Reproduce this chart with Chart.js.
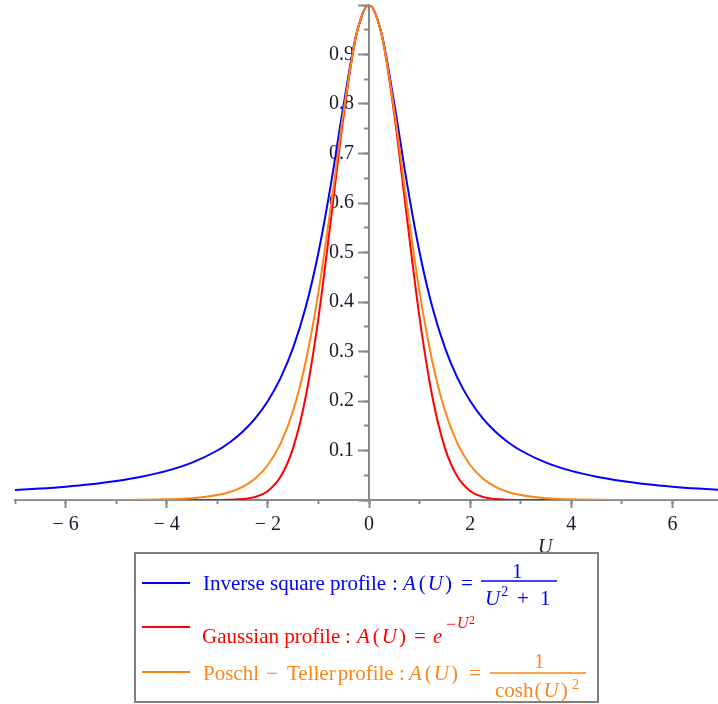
<!DOCTYPE html>
<html>
<head>
<meta charset="utf-8">
<script src="https://cdn.jsdelivr.net/npm/chart.js@4/dist/chart.umd.min.js"></script>
<style>
  html, body { margin: 0; padding: 0; background: #ffffff; }
  #wrap { width: 718px; height: 704px; position: relative; }
</style>
</head>
<body>
<div id="wrap"><canvas id="profiles-chart"></canvas></div>
<script>
const uValues = [-7, -6.5, -6, -5.5, -5, -4.5, -4, -3.5, -3, -2.75, -2.5, -2.25, -2, -1.75, -1.5, -1.25, -1, -0.75, -0.5, -0.25,
    0, 0.25, 0.5, 0.75, 1, 1.25, 1.5, 1.75, 2, 2.25, 2.5, 2.75, 3, 3.5, 4, 4.5, 5, 5.5, 6, 6.5, 7];

const inverseSquare = [0.0200, 0.0231, 0.0270, 0.0320, 0.0385, 0.0471, 0.0588, 0.0755, 0.1000, 0.1168, 0.1379, 0.1649, 0.2000, 0.2462, 0.3077, 0.3902, 0.5000, 0.6400, 0.8000, 0.9412,
    1.0000, 0.9412, 0.8000, 0.6400, 0.5000, 0.3902, 0.3077, 0.2462, 0.2000, 0.1649, 0.1379, 0.1168, 0.1000, 0.0755, 0.0588, 0.0471, 0.0385, 0.0320, 0.0270, 0.0231, 0.0200];

const gaussian = [0, 0, 0, 0, 0, 0, 0, 0, 0.0001, 0.0005, 0.0019, 0.0063, 0.0183, 0.0468, 0.1054, 0.2096, 0.3679, 0.5698, 0.7788, 0.9394,
    1.0000, 0.9394, 0.7788, 0.5698, 0.3679, 0.2096, 0.1054, 0.0468, 0.0183, 0.0063, 0.0019, 0.0005, 0.0001, 0, 0, 0, 0, 0, 0, 0, 0];

const poschlTeller = [0, 0, 0, 0.0001, 0.0002, 0.0005, 0.0013, 0.0036, 0.0099, 0.0162, 0.0266, 0.0435, 0.0707, 0.1138, 0.1807, 0.2804, 0.4200, 0.5966, 0.7864, 0.9401,
    1.0000, 0.9401, 0.7864, 0.5966, 0.4200, 0.2804, 0.1807, 0.1138, 0.0707, 0.0435, 0.0266, 0.0162, 0.0099, 0.0036, 0.0013, 0.0005, 0.0002, 0.0001, 0, 0, 0];

const xTicksMajor = [-6, -4, -2, 0, 2, 4, 6];
const yTickLabels = ['0.1', '0.2', '0.3', '0.4', '0.5', '0.6', '0.7', '0.8', '0.9'];

const BLUE = '#0000ff';
const RED = '#ff0000';
const ORANGE = '#ff8418';
const AXIS = '#8a8a8a';
const SERIF = '"Liberation Serif", "Times New Roman", serif';

function toPoints(ys) {
    return uValues.map((u, i) => ({ x: u, y: ys[i] }));
}

function fmtX(v) {
    if (!xTicksMajor.includes(v)) return '';
    return v < 0 ? '\u2212 ' + (-v) : String(v);
}

function fmtY(v) {
    const s = (Math.round(v * 10) / 10).toFixed(1);
    return yTickLabels.includes(s) ? s + '\u2002\u2005' : '';
}

// the axes cross in the middle, so their labels must not push the plot area in
function noScalePadding(scale) {
    scale.paddingTop = 0;
    scale.paddingBottom = 0;
    scale.paddingLeft = 0;
    scale.paddingRight = 0;
}

// text helpers for the maple style legend
function runFont(r) {
    return (r.it ? 'italic ' : '') + (r.sz || 21) + 'px ' + SERIF;
}

function drawRuns(ctx, runs, x, y) {
    runs.forEach(r => {
        ctx.font = runFont(r);
        ctx.fillText(r.t, x, y + (r.dy || 0));
        x += ctx.measureText(r.t).width + (r.gap || 0);
    });
    return x;
}

const AofU = [{ t: 'A', it: 1, gap: 3 }, { t: '(', gap: 2 }, { t: 'U', it: 1, gap: 2 }, { t: ')' }];

const legendPlugin = {
    id: 'mapleLegend',
    afterDraw(chart) {
        const ctx = chart.ctx;
        ctx.save();
        ctx.textAlign = 'left';
        ctx.textBaseline = 'alphabetic';

        // axis name
        ctx.fillStyle = '#1a1a2e';
        ctx.font = 'italic 20px ' + SERIF;
        ctx.fillText('U', 538, 553);

        // frame
        ctx.strokeStyle = '#808080';
        ctx.lineWidth = 2;
        ctx.strokeRect(135, 553, 463, 149);

        const line = (color, y) => {
            ctx.strokeStyle = color;
            ctx.lineWidth = 2;
            ctx.beginPath();
            ctx.moveTo(142, y);
            ctx.lineTo(190, y);
            ctx.stroke();
        };
        const bar = (color, x1, x2, y) => {
            ctx.strokeStyle = color;
            ctx.lineWidth = 1.5;
            ctx.beginPath();
            ctx.moveTo(x1, y);
            ctx.lineTo(x2, y);
            ctx.stroke();
        };

        // inverse square
        line(BLUE, 583);
        ctx.fillStyle = BLUE;
        drawRuns(ctx, [{ t: 'Inverse square profile' }], 203, 590);
        drawRuns(ctx, [{ t: ':' }], 392, 590);
        drawRuns(ctx, AofU, 403, 590);
        drawRuns(ctx, [{ t: '=' }], 461, 590);
        bar(BLUE, 481, 557, 581);
        drawRuns(ctx, [{ t: '1' }], 512, 578);
        drawRuns(ctx, [{ t: 'U', it: 1, gap: 1 }, { t: '2', sz: 14, dy: -9 }], 485, 605);
        drawRuns(ctx, [{ t: '+' }], 517, 605);
        drawRuns(ctx, [{ t: '1' }], 540, 605);

        // gaussian
        line(RED, 627);
        ctx.fillStyle = RED;
        drawRuns(ctx, [{ t: 'Gaussian profile' }], 202, 643);
        drawRuns(ctx, [{ t: ':' }], 345, 643);
        drawRuns(ctx, AofU, 357, 643);
        drawRuns(ctx, [{ t: '=' }], 414, 643);
        drawRuns(ctx, [{ t: 'e', it: 1 }], 433, 643);
        drawRuns(ctx, [{ t: '\u2212', sz: 18 }], 446, 630);
        drawRuns(ctx, [{ t: 'U', it: 1, sz: 16 }], 457, 628);
        drawRuns(ctx, [{ t: '2', sz: 12 }], 469, 624);

        // poschl-teller
        line(ORANGE, 672);
        ctx.fillStyle = ORANGE;
        drawRuns(ctx, [{ t: 'Poschl' }], 203, 680);
        drawRuns(ctx, [{ t: '\u2212' }], 266, 680);
        drawRuns(ctx, [{ t: 'Teller', gap: 2 }, { t: 'profile' }], 287, 680);
        drawRuns(ctx, [{ t: ':' }], 399, 680);
        drawRuns(ctx, AofU, 409, 680);
        drawRuns(ctx, [{ t: '=' }], 469, 680);
        bar(ORANGE, 490, 586, 673);
        drawRuns(ctx, [{ t: '1' }], 534, 668);
        drawRuns(ctx, [{ t: 'cosh', gap: 1 }, { t: '(', gap: 2 }, { t: 'U', it: 1, gap: 2 }, { t: ')' }], 495, 697);
        drawRuns(ctx, [{ t: '2', sz: 14 }], 572, 689);

        ctx.restore();
    }
};

const tickFont = { family: SERIF, size: 20 };

new Chart(document.getElementById('profiles-chart'), {
    type: 'line',
    data: {
        datasets: [
            {
                label: 'Inverse square profile',
                data: toPoints(inverseSquare),
                borderColor: BLUE,
                order: 3
            },
            {
                label: 'Gaussian profile',
                data: toPoints(gaussian),
                borderColor: RED,
                order: 2
            },
            {
                label: 'Poschl - Teller profile',
                data: toPoints(poschlTeller),
                borderColor: ORANGE,
                order: 1
            }
        ]
    },
    options: {
        responsive: true,
        maintainAspectRatio: false,
        animation: false,
        layout: {
            autoPadding: false,
            padding: { left: 15, right: 0, top: 5, bottom: 204 }
        },
        elements: {
            point: { radius: 0 },
            line: { borderWidth: 2, cubicInterpolationMode: 'monotone', fill: false }
        },
        scales: {
            x: {
                type: 'linear',
                min: -7,
                max: 6.9,
                position: { y: 0 },
                afterFit: noScalePadding,
                border: { color: AXIS, width: 2 },
                grid: { drawOnChartArea: false, color: AXIS, tickLength: 7, tickWidth: 2 },
                ticks: {
                    stepSize: 2,
                    includeBounds: false,
                    autoSkip: false,
                    maxRotation: 0,
                    padding: 6,
                    color: '#1a1a2e',
                    font: tickFont,
                    callback: fmtX
                }
            },
            xMinor: {
                type: 'linear',
                axis: 'x',
                min: -7,
                max: 6.9,
                position: { y: 0 },
                afterFit: noScalePadding,
                border: { display: false },
                grid: { drawOnChartArea: false, color: AXIS, tickLength: 4, tickWidth: 2 },
                ticks: { stepSize: 1, includeBounds: false, autoSkip: false, callback: () => '' }
            },
            y: {
                type: 'linear',
                min: 0,
                max: 1,
                position: { x: 0 },
                afterFit: noScalePadding,
                border: { color: AXIS, width: 2 },
                grid: { drawOnChartArea: false, color: AXIS, tickLength: 10, tickWidth: 2 },
                ticks: {
                    stepSize: 0.1,
                    autoSkip: false,
                    padding: 4,
                    color: '#1a1a2e',
                    font: tickFont,
                    callback: fmtY
                }
            },
            yMinor: {
                type: 'linear',
                axis: 'y',
                min: 0,
                max: 1,
                position: { x: 0 },
                afterFit: noScalePadding,
                border: { display: false },
                grid: { drawOnChartArea: false, color: AXIS, tickLength: 5, tickWidth: 2 },
                ticks: { stepSize: 0.05, autoSkip: false, callback: () => '' }
            }
        },
        plugins: {
            legend: { display: false },
            tooltip: { enabled: false }
        }
    },
    plugins: [legendPlugin]
});
</script>
</body>
</html>
